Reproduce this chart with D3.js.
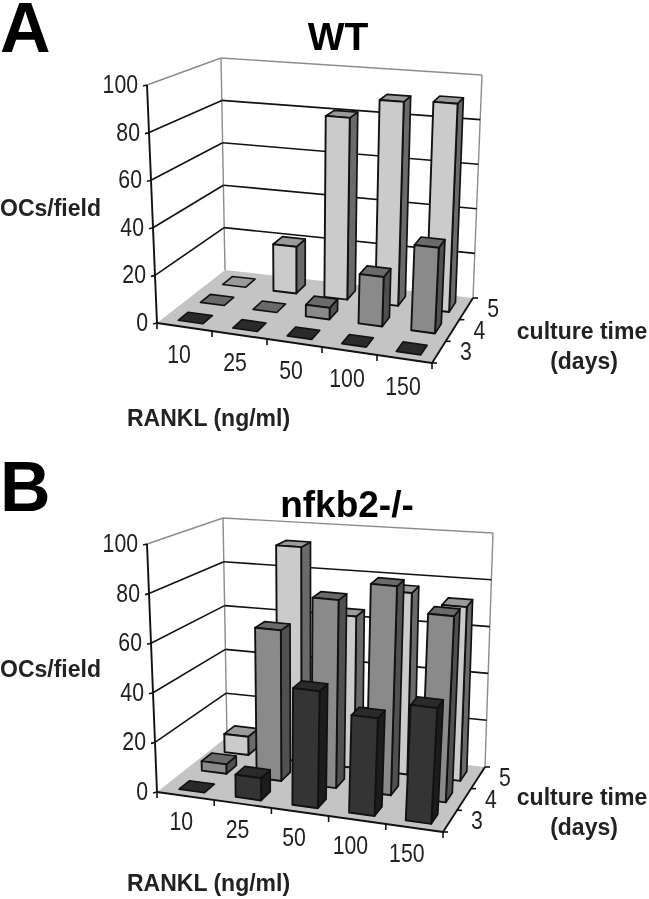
<!DOCTYPE html>
<html>
<head>
<meta charset="utf-8">
<script src="https://cdn.jsdelivr.net/npm/d3@7"></script>
<style>
  html, body { margin: 0; padding: 0; background: #fff; }
  svg { display: block; filter: blur(0.4px); }
  text { font-family: "Liberation Sans", Arial, sans-serif; fill: #222; }
</style>
</head>
<body>
<div id="container"></div>
<script>
var rankl = ["10", "25", "50", "100", "150"];
var days = ["3", "4", "5"];
var yTicks = [0, 20, 40, 60, 80, 100];

// OCs/field per RANKL dose
var wtDay3 = [0, 0, 0, 0, 0];
var wtDay4 = [0, 0, 5, 21, 36];
var wtDay5 = [0, 21, 81, 90, 91];
var koDay3 = [0, 9, 47, 39, 46];
var koDay4 = [4, 63, 78, 86, 76];
var koDay5 = [8, 93, 65, 77, 73];

var faces = {
  "3": { front: "#343434", side: "#1c1c1c", top: "#2a2a2a" },
  "4": { front: "#8a8a8a", side: "#505050", top: "#6a6a6a" },
  "5": { front: "#cbcbcb", side: "#6a6a6a", top: "#9a9a9a" }
};

var svg = d3.select("#container").append("svg")
  .attr("width", 649).attr("height", 899);

var x = d3.scaleBand().domain(rankl).range([0, 1]).paddingInner(0.55).paddingOuter(0.275);
var z = d3.scaleBand().domain(days).range([0, 1]).paddingInner(0.55).paddingOuter(0.275);
var y = d3.scaleLinear().domain([0, 100]).range([0, 1]);

function drawChart(opt) {
  var c = opt.corners;
  var g = svg.append("g");

  // u along the doses, v into the picture, h up
  function project(u, v, h) {
    var fx0 = c.fl[0] + (c.fr[0] - c.fl[0]) * u, fy0 = c.fl[1] + (c.fr[1] - c.fl[1]) * u;
    var bx0 = c.bl[0] + (c.br[0] - c.bl[0]) * u, by0 = c.bl[1] + (c.br[1] - c.bl[1]) * u;
    var fx1 = c.tfl[0] + (c.tfr[0] - c.tfl[0]) * u, fy1 = c.tfl[1] + (c.tfr[1] - c.tfl[1]) * u;
    var bx1 = c.tbl[0] + (c.tbr[0] - c.tbl[0]) * u, by1 = c.tbl[1] + (c.tbr[1] - c.tbl[1]) * u;
    var x0 = fx0 + (bx0 - fx0) * v, y0 = fy0 + (by0 - fy0) * v;
    var x1 = fx1 + (bx1 - fx1) * v, y1 = fy1 + (by1 - fy1) * v;
    return [x0 + (x1 - x0) * h, y0 + (y1 - y0) * h];
  }
  var line = d3.line();
  function poly(pts, fill, stroke, sw) {
    return g.append("path").attr("d", line(pts) + "Z")
      .attr("fill", fill).attr("stroke", stroke).attr("stroke-width", sw)
      .attr("stroke-linejoin", "round");
  }
  function seg(a, b, stroke, sw) {
    return g.append("path").attr("d", line([a, b]))
      .attr("fill", "none").attr("stroke", stroke).attr("stroke-width", sw);
  }
  // the tick digits are narrower than the font
  function tickText(px, py, anchor, s) {
    g.append("text").attr("transform", "translate(" + px + "," + py + ") scale(0.85,1)")
      .attr("text-anchor", anchor).attr("font-size", 25).text(s);
  }

  // floor
  poly([project(0,0,0), project(1,0,0), project(1,1,0), project(0,1,0)], "#c4c4c4", "none", 0);

  // walls
  seg(project(0,0,1), project(0,1,1), "#8c8c8c", 1.4);
  seg(project(0,1,1), project(1,1,1), "#8c8c8c", 1.4);
  seg(project(0,1,0), project(0,1,1), "#8c8c8c", 1.4);
  seg(project(1,1,0), project(1,1,1), "#8c8c8c", 1.4);

  // gridlines run along the side wall then the back wall
  yTicks.slice(1, -1).forEach(function(t) {
    var h = y(t);
    seg(project(0,0,h), project(0,1,h), "#111", 1.6);
    seg(project(0,1,h), project(1,1,h), "#111", 1.6);
  });

  // axes
  seg(project(0,0,0), project(0,0,1), "#111", 1.9);
  seg(project(0,0,0), project(1,0,0), "#111", 1.9);
  seg(project(1,0,0), project(1,1,0), "#111", 1.9);

  yTicks.forEach(function(t) {
    var p = project(0,0,y(t));
    seg([p[0] - 4, p[1] + 1], p, "#111", 1.6);
    tickText(p[0] - 9, p[1] + 8, "end", t);
  });

  rankl.forEach(function(r, i) {
    var u = (i + 0.5) / rankl.length;
    var p = project(u, 0, 0);
    tickText(p[0] + opt.labelDx[0] + (opt.labelDx[1] - opt.labelDx[0]) * u, p[1] + opt.labelDy, "middle", r);
  });
  d3.range(rankl.length + 1).forEach(function(i) {
    var p = project(i / rankl.length, 0, 0);
    seg(p, [p[0], p[1] + 6], "#111", 1.6);
  });

  days.forEach(function(d, i) {
    var p = project(1, (i + 0.5) / days.length, 0);
    tickText(p[0] + 27, p[1] + 8, "middle", d);
  });
  d3.range(days.length + 1).forEach(function(i) {
    var p = project(1, i / days.length, 0);
    seg(p, [p[0] + 5, p[1]], "#111", 1.6);
  });

  // bars, back row first and left to right so nearer ones paint over
  days.slice().reverse().forEach(function(d) {
    var vals = opt.series[days.indexOf(d)];
    rankl.forEach(function(r, i) {
      var u0 = x(r), u1 = u0 + x.bandwidth();
      var v0 = z(d), v1 = v0 + z.bandwidth();
      var h = y(vals[i]);
      var col = faces[d];
      if (vals[i] === 0) {
        poly([project(u0,v0,0), project(u1,v0,0), project(u1,v1,0), project(u0,v1,0)], col.top, "#111", 1.6);
        return;
      }
      poly([project(u1,v0,0), project(u1,v1,0), project(u1,v1,h), project(u1,v0,h)], col.side, "#111", 1.7);
      poly([project(u0,v0,h), project(u1,v0,h), project(u1,v1,h), project(u0,v1,h)], col.top, "#111", 1.7);
      poly([project(u0,v0,0), project(u1,v0,0), project(u1,v0,h), project(u0,v0,h)], col.front, "#111", 1.9);
    });
  });

  // captions
  g.append("text").attr("x", 0).attr("y", opt.letterY).attr("font-size", 70)
    .attr("font-weight", "bold").style("fill", "#000").text(opt.letter);
  g.append("text").attr("x", opt.titleX).attr("y", opt.titleY).attr("font-size", opt.titleSize)
    .attr("text-anchor", "middle").attr("font-weight", "bold").style("fill", "#000").text(opt.title);
  g.append("text").attr("x", 0).attr("y", opt.ocY).attr("font-size", 23)
    .attr("font-weight", "bold").text("OCs/field");
  g.append("text").attr("x", 582).attr("y", opt.cultureY).attr("font-size", 23)
    .attr("text-anchor", "middle").attr("font-weight", "bold").text("culture time");
  g.append("text").attr("x", 584).attr("y", opt.cultureY + 30).attr("font-size", 23)
    .attr("text-anchor", "middle").attr("font-weight", "bold").text("(days)");
  g.append("text").attr("x", 127).attr("y", opt.ranklY).attr("font-size", 23)
    .attr("font-weight", "bold").text("RANKL (ng/ml)");
}

drawChart({
  letter: "A", letterY: 52, title: "WT", titleX: 338, titleY: 50, titleSize: 39,
  ocY: 216, cultureY: 339, ranklY: 426, labelDx: [-6, -1], labelDy: 36,
  series: [wtDay3, wtDay4, wtDay5],
  corners: {
    fl: [157, 323], fr: [432, 363], bl: [225, 270], br: [473, 298],
    tfl: [147, 85], tfr: [446, 113], tbl: [221, 58], tbr: [482, 75]
  }
});

drawChart({
  letter: "B", letterY: 511, title: "nfkb2-/-", titleX: 347, titleY: 517, titleSize: 37,
  ocY: 677, cultureY: 805, ranklY: 891, labelDx: [-4, -8], labelDy: 34,
  series: [koDay3, koDay4, koDay5],
  corners: {
    fl: [157, 792], fr: [443, 832], bl: [227, 737], br: [485, 767],
    tfl: [147, 544], tfr: [458, 578], tbl: [223, 518], tbr: [493, 533]
  }
});
</script>
</body>
</html>
